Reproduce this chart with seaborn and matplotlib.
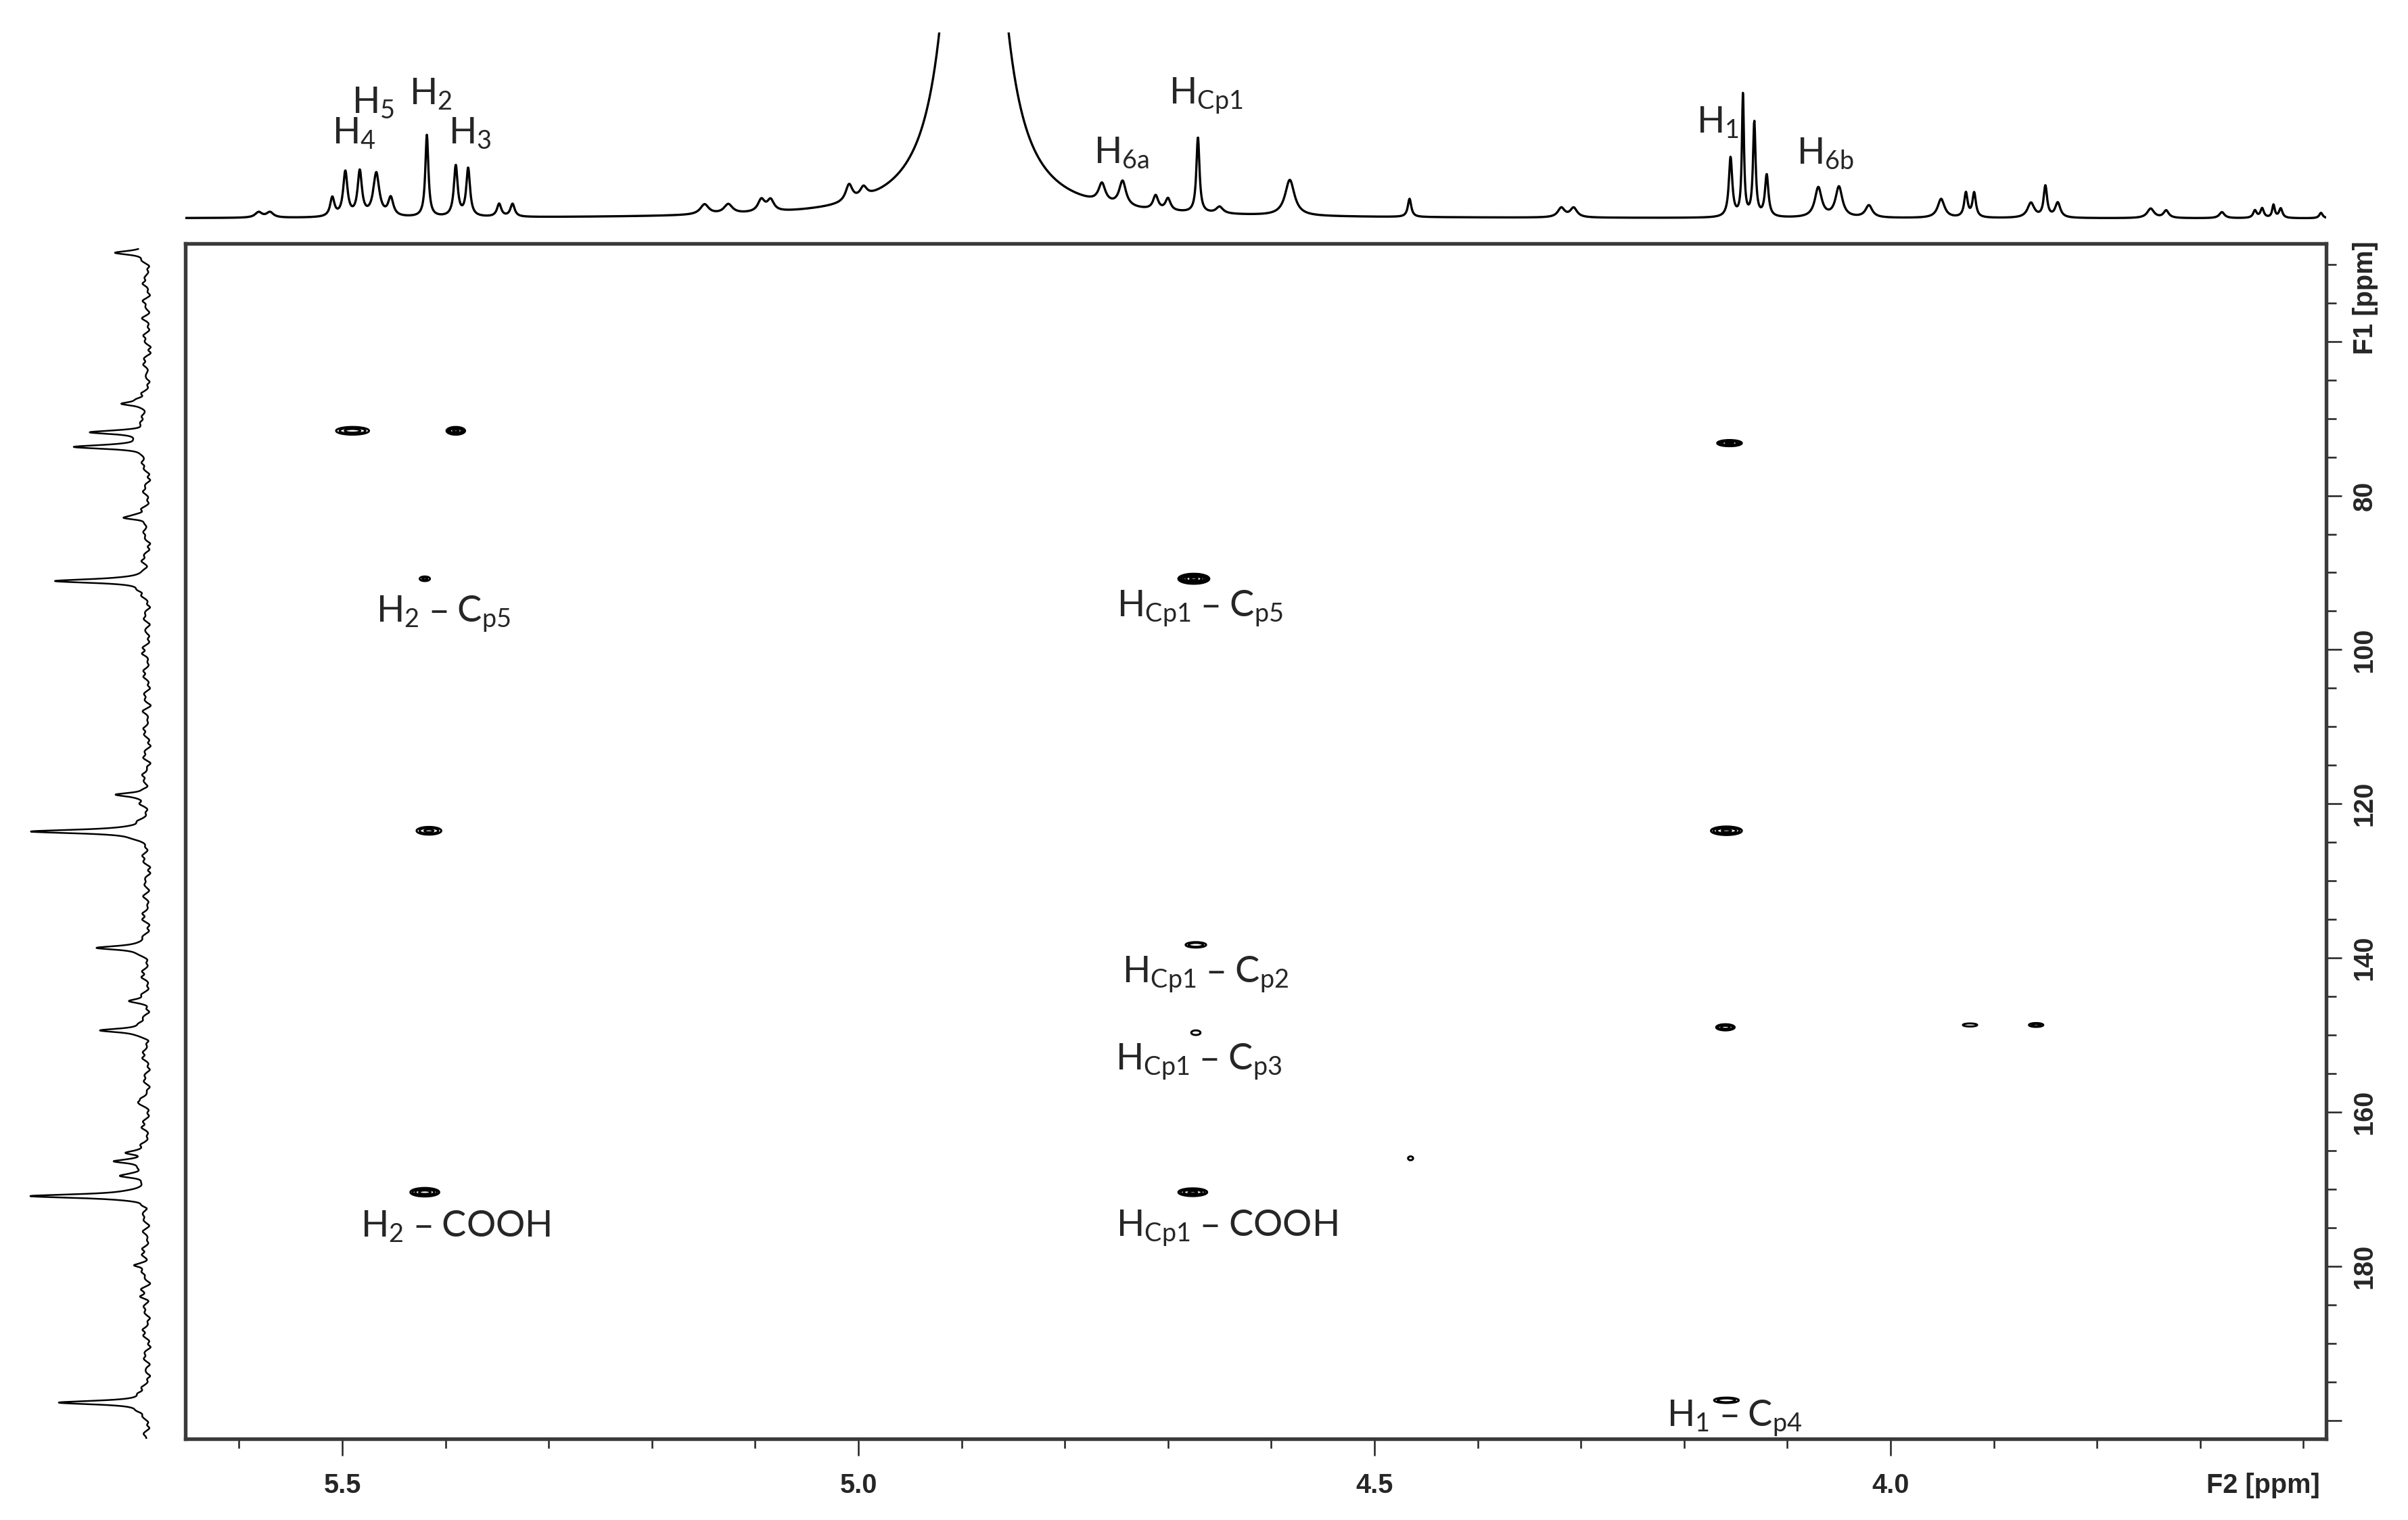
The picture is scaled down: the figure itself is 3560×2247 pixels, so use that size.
import numpy as np
import matplotlib
matplotlib.use("Agg")
import matplotlib.pyplot as plt
import matplotlib.transforms as mtransforms
from matplotlib.ticker import MultipleLocator, FuncFormatter
import seaborn as sns

# HMBC spectrum, F2 = 1H (ppm), F1 = 13C (ppm)
f2_lim = (5.652, 3.578)
f1_lim = (202.4, 47.3)

# top 1H projection: peak position (ppm), height (px above baseline), half width (ppm)
f2_peak_ppm = [5.581, 5.570, 5.5096, 5.497, 5.483, 5.467, 5.453, 5.418, 5.390, 5.378,
               5.348, 5.335, 5.149, 5.126, 5.094, 5.085, 5.009, 4.995, 4.888, 4.764,
               4.744, 4.712, 4.700, 4.671, 4.650, 4.582, 4.466, 4.319, 4.307, 4.155,
               4.143, 4.132, 4.120, 4.070, 4.050, 4.021, 3.951, 3.927, 3.919, 3.864,
               3.850, 3.838, 3.748, 3.733, 3.679, 3.647, 3.640, 3.629, 3.622, 3.583]
f2_peak_height = [8, 8, 28, 66, 66, 64, 27, 121, 75, 71,
                  19, 19, 15, 14, 18, 17, 25, 15, 1710, 28,
                  37, 21, 18, 112, 10, 53, 27, 14, 14, 88,
                  180, 140, 62, 44, 45, 18, 28, 36, 36, 22,
                  46, 22, 14, 11, 9, 11, 14, 19, 14, 8]
f2_peak_hwhm = [0.004, 0.004, 0.0025, 0.0025, 0.0025, 0.0035, 0.003, 0.0018, 0.0022, 0.0022,
                0.0025, 0.0025, 0.005, 0.005, 0.004, 0.004, 0.004, 0.004, 0.0147, 0.004,
                0.004, 0.003, 0.003, 0.0018, 0.004, 0.0055, 0.002, 0.004, 0.004, 0.002,
                0.0012, 0.0015, 0.002, 0.004, 0.004, 0.004, 0.004, 0.002, 0.002, 0.004,
                0.002, 0.003, 0.004, 0.003, 0.003, 0.002, 0.002, 0.0015, 0.002, 0.002]

# left 13C projection: peak position (ppm), height (px), plus hand-read noise wiggles
f1_peak_ppm = [48.5, 68.1, 71.8, 73.7, 82.9, 91.1, 118.8, 123.6, 138.7, 145.6,
               149.4, 158.7, 165.3, 166.4, 168.3, 170.9, 179.9, 183.9, 197.7]
f1_peak_height = [47, 39, 85, 102, 34, 135, 47, 175, 80, 24,
                  72, 10, 27, 50, 34, 168, 22, 12, 132]
f1_noise_a = [4, -3, 6, -5, 2, 7, -4, 3, -6, 5, 1, -3, 8, -2, 4, -5, 6, -1, 3, -6,
              5, -4, 7, -2, 2, -5, 6, 0, -3, 5, -6, 4, 2, -4, 7, -3, 5, -5, 3, 6,
              -2, 4, -6, 5, -1, 3, -5, 7, -3, 2, 6, -4, 4, -6, 3, 5, -2, 6, -5, 1,
              4, -3, 7, -4, 2, -6, 5, 3, -2, 6, -5, 4, -1, 5, -4, 7, -3, 2, -5, 6,
              -2, 4, -6, 3, 5, -3, 6, -4, 2, 7, -5, 3, -2, 5, -6, 4, 1, -3, 6, -4,
              3, -5]
f1_noise_b = [-5, 3, -2, 6, -4, -3, 5, -6, 4, -2, -5, 6, -3, 4, -6, 3, -4, 5, -5, 2,
              -3, 6, -5, 4, -6, 3, -4, 5, 6, -3, 2, -5, -4, 6, -2, 5, -3, 4, -6, -2,
              5, -4, 3, -6, 6, -5, 2, -4, 6, -5, -3, 5, -6, 2, -4, -3, 6, -5, 3, -6,
              -4, 6, -3, 5, -5, 3, -4, -6, 5, -3, 3, -5, 6, -4, 5, -3, 6, -5, 4, -3,
              5, -6, 3, -5, -2, 6, -4, 5, -6, -3, 4, -5, 6, -4, 3, -5, -6, 5, -3, 6,
              -4, 4]

# cross peaks: F2, F1, outer contour width (ppm), outer contour height (ppm), intensity
xp_f2 = [5.490, 5.390, 4.156, 5.420, 4.675, 5.416, 4.159, 4.673, 4.673, 4.160, 3.923, 3.859, 4.465, 5.420, 4.676, 4.159]
xp_f1 = [71.6, 71.6, 73.2, 90.8, 90.8, 123.5, 123.5, 138.3, 149.7, 149.0, 148.7, 148.7, 166.0, 170.4, 170.4, 197.4]
xp_w = [0.032, 0.018, 0.024, 0.010, 0.030, 0.024, 0.030, 0.020, 0.009, 0.018, 0.014, 0.014, 0.005, 0.028, 0.028, 0.024]
xp_h = [1.0, 1.0, 0.8, 0.6, 1.3, 1.0, 1.1, 0.7, 0.6, 0.8, 0.4, 0.5, 0.5, 1.1, 1.0, 0.7]
xp_amp = [6, 10, 10, 2.5, 40, 5, 10, 4, 2, 6, 1.6, 3, 1.5, 12, 10, 4]

# assignments
ann_text = ['H$_2$ – C$_{p5}$', 'H$_{Cp1}$ – C$_{p5}$', 'H$_{Cp1}$ – C$_{p2}$', 'H$_{Cp1}$ – C$_{p3}$',
            'H$_2$ – COOH', 'H$_{Cp1}$ – COOH', 'H$_1$ – C$_{p4}$']
ann_x = [5.402, 4.669, 4.664, 4.670, 5.390, 4.643, 4.151]
ann_y = [96.5, 95.8, 143.3, 154.6, 176.2, 176.2, 200.9]

top_text = ['H$_4$', 'H$_5$', 'H$_2$', 'H$_3$', 'H$_{6a}$', 'H$_{Cp1}$', 'H$_1$', 'H$_{6b}$']
top_x = [5.5098, 5.491, 5.435, 5.397, 4.772, 4.699, 4.188, 4.091]
top_y = [110, 155, 168, 110, 81, 168, 126, 80]

sns.set_style("white")
plt.rcParams['font.family'] = ['Liberation Sans Narrow', 'Liberation Sans', 'DejaVu Sans']
plt.rcParams['mathtext.default'] = 'regular'
ann_font = ['Lato', 'DejaVu Sans']

W, H = 3561, 2247
fig = plt.figure(figsize=(W / 300, H / 300), dpi=300)
ax = fig.add_axes([274 / W, 1 - 2127 / H, 3165 / W, 1767 / H])
ax_top = fig.add_axes([274 / W, 1 - 345 / H, 3165 / W, 297 / H])
ax_left = fig.add_axes([20 / W, 1 - 2127 / H, 220 / W, 1767 / H])

# top projection
x1d = np.linspace(f2_lim[1], f2_lim[0], 5000)
f2_trace = np.zeros_like(x1d)
for p, h, g in zip(f2_peak_ppm, f2_peak_height, f2_peak_hwhm):
    f2_trace += h * g**2 / ((x1d - p)**2 + g**2)
sns.lineplot(x=x1d, y=f2_trace, ax=ax_top, color='black', linewidth=0.8, estimator=None, sort=False)
ax_top.set_xlim(*f2_lim)
ax_top.set_ylim(-22, 275)
ax_top.axis('off')
for t, x, y in zip(top_text, top_x, top_y):
    ax_top.text(x, y, t, ha='left', va='baseline', fontsize=13, family=ann_font, clip_on=False)

# left projection
y1d = np.linspace(48, 202.7, 5000)
f1_trace = np.zeros_like(y1d)
for p, h in zip(f1_peak_ppm, f1_peak_height):
    f1_trace += h * 0.3**2 / ((y1d - p)**2 + 0.3**2)
noise_a_pos = np.arange(len(f1_noise_a)) * 1.5 + 49.5
noise_b_pos = np.arange(len(f1_noise_b)) * 1.5 + 50.25
for p, h in zip(np.concatenate([noise_a_pos, noise_b_pos]), f1_noise_a + f1_noise_b):
    f1_trace += h * np.exp(-((y1d - p) / 0.3)**2)
sns.lineplot(x=f1_trace, y=y1d, ax=ax_left, color='black', linewidth=0.6,
             estimator=None, sort=False, orient='y')
ax_left.set_ylim(*f1_lim)
ax_left.set_xlim(197, -23)
ax_left.axis('off')

# 2D contours
gx = np.linspace(f2_lim[1], f2_lim[0], 2400)
gy = np.linspace(f1_lim[1], f1_lim[0], 1800)
GX, GY = np.meshgrid(gx, gy)
Z = np.zeros_like(GX)
for x0, y0, w, h, a in zip(xp_f2, xp_f1, xp_w, xp_h, xp_amp):
    k = 2 * np.sqrt(np.log(a))
    Z += a * np.exp(-((GX - x0) / (w / k))**2 - ((GY - y0) / (h / k))**2)
ax.contour(GX, GY, Z, levels=[1, 2, 4, 8, 16, 32], colors='black', linewidths=0.7)

ax.set_xlim(*f2_lim)
ax.set_ylim(*f1_lim)
for s in ax.spines.values():
    s.set_color('#3a3a3a')
    s.set_linewidth(1.3)
    s.set_visible(True)

ax.xaxis.set_major_locator(MultipleLocator(0.5))
ax.xaxis.set_minor_locator(MultipleLocator(0.1))
ax.xaxis.set_major_formatter(FuncFormatter(lambda v, p: f'{v:.1f}'))
ax.yaxis.set_major_locator(MultipleLocator(20))
ax.yaxis.set_minor_locator(MultipleLocator(5))
ax.yaxis.set_major_formatter(FuncFormatter(lambda v, p: '' if round(v) in (60, 200) else f'{v:.0f}'))
ax.yaxis.tick_right()
ax.tick_params(axis='x', which='major', direction='out', length=6, width=0.6, color='#222', pad=6,
               labelsize=9.5, bottom=True, top=False)
ax.tick_params(axis='x', which='minor', direction='out', length=3.4, width=0.6, color='#222', bottom=True, top=False)
ax.tick_params(axis='y', which='major', direction='out', length=5.5, width=0.6, color='#222', pad=3.5,
               labelsize=9.5, right=True, left=False, labelright=True, labelleft=False)
ax.tick_params(axis='y', which='minor', direction='out', length=3.6, width=0.6, color='#222', right=True, left=False)
for lbl in ax.get_xticklabels():
    lbl.set_fontweight('bold')
for lbl in ax.get_yticklabels():
    lbl.set_fontweight('bold')
    lbl.set_rotation(90)
    lbl.set_va('center')

tr_x = mtransforms.blended_transform_factory(ax.transData, ax.transAxes)
ax.text(3.584, -0.0283, 'F2 [ppm]', transform=tr_x, ha='right', va='top', fontsize=9.5, fontweight='bold')
tr_y = mtransforms.blended_transform_factory(ax.transAxes, ax.transData)
ax.text(1.0123, 61.7, 'F1 [ppm]', transform=tr_y, ha='left', va='bottom', rotation=90,
        fontsize=9.5, fontweight='bold')

for t, x, y in zip(ann_text, ann_x, ann_y):
    ax.text(x, y, t, ha='center', va='baseline', fontsize=13, family=ann_font)

fig.savefig('out.png', dpi=300)
